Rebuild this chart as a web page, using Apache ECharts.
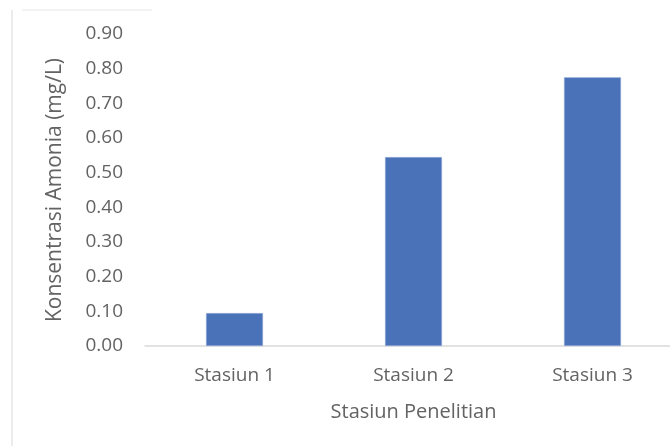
<!DOCTYPE html>
<html>
<head>
<meta charset="utf-8">
<script src="https://cdn.jsdelivr.net/npm/echarts@6/dist/echarts.min.js"></script>
<style>
html, body { margin: 0; padding: 0; background: #fff; overflow: hidden; }
#main { width: 682px; height: 446px; }
</style>
</head>
<body>
<div id="main"></div>
<script>
var stations = ['Stasiun 1', 'Stasiun 2', 'Stasiun 3'];
var amonia = [0.095, 0.545, 0.775];
var yTicks = [0, 0.9, 0.1];

var myChart = echarts.init(document.getElementById('main'));
var textColor = '#636363';
var font = '"Open Sans", "Noto Sans", sans-serif';

var option = {
    animation: false,
    textStyle: { fontFamily: font },
    graphic: [
        // leftover chart border from the cropped source
        { type: 'line', shape: { x1: 22, y1: 10, x2: 152, y2: 10 }, style: { stroke: '#e6e6e6', lineWidth: 1 } },
        { type: 'line', shape: { x1: 12, y1: 10, x2: 12, y2: 446 }, style: { stroke: '#d9d9d9', lineWidth: 1 } }
    ],
    grid: {
        left: 145,
        top: 34,
        width: 537,
        height: 312
    },
    xAxis: {
        type: 'category',
        data: stations,
        name: 'Stasiun Penelitian',
        nameLocation: 'middle',
        nameGap: 56,
        nameTextStyle: { color: textColor, fontSize: 20, fontFamily: font },
        axisLine: { lineStyle: { color: '#d9d9d9', width: 1.5 } },
        axisTick: { show: false },
        axisLabel: { color: textColor, fontSize: 19, margin: 20, fontFamily: font }
    },
    yAxis: {
        type: 'value',
        min: yTicks[0],
        max: yTicks[1],
        interval: yTicks[2],
        name: 'Konsentrasi Amonia (mg/L)',
        nameLocation: 'middle',
        nameGap: 79,
        nameTextStyle: { color: textColor, fontSize: 21, fontFamily: font },
        axisLine: { show: false },
        axisTick: { show: false },
        splitLine: { show: false },
        axisLabel: {
            color: textColor,
            fontSize: 19,
            margin: 22,
            fontFamily: font,
            formatter: function (v) { return v.toFixed(2); }
        }
    },
    series: [{
        type: 'bar',
        data: amonia,
        barWidth: 57,
        itemStyle: { color: '#4a72b8', borderColor: '#a7bbe0', borderWidth: 0.5 }
    }]
};
myChart.setOption(option);
</script>
</body>
</html>
